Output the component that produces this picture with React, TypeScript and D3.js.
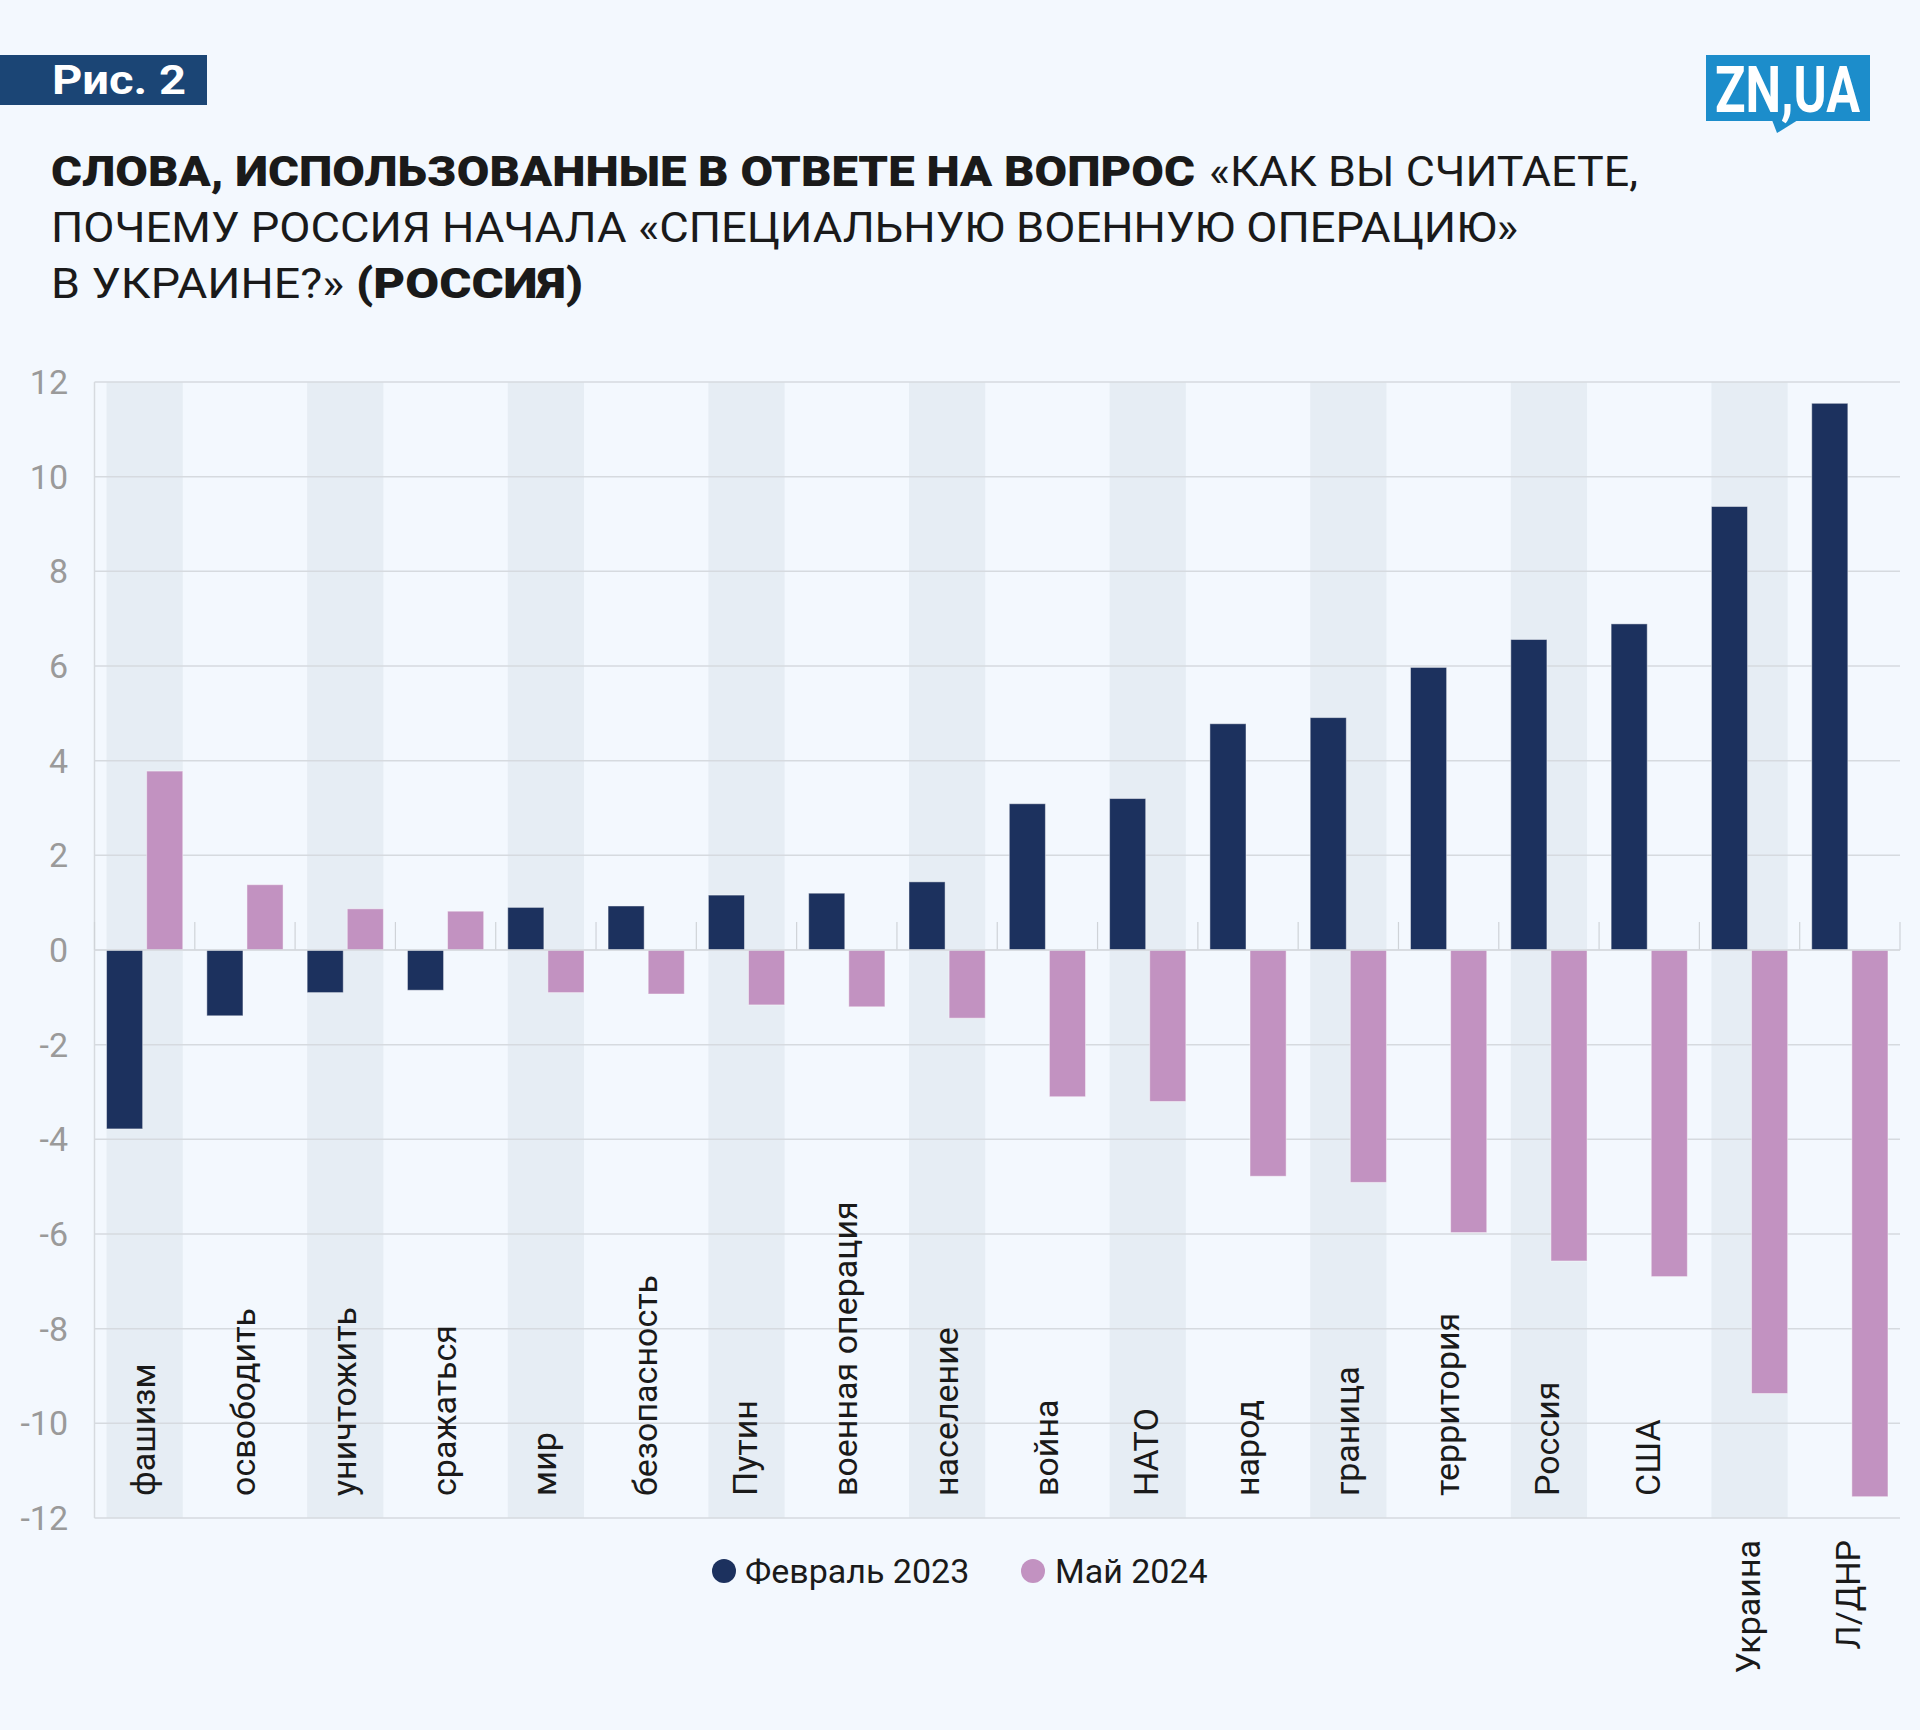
import React from "react";
import * as d3 from "d3";

const categories = [
  "фашизм", "освободить", "уничтожить", "сражаться", "мир", "безопасность",
  "Путин", "военная операция", "население", "война", "НАТО", "народ",
  "граница", "территория", "Россия", "США", "Украина", "Л/ДНР",
];
const feb2023 = [-3.78, -1.39, -0.9, -0.85, 0.9, 0.93, 1.16, 1.2, 1.44, 3.09, 3.2, 4.78, 4.91, 5.97, 6.56, 6.89, 9.37, 11.55];
const may2024 = [3.78, 1.38, 0.87, 0.82, -0.9, -0.93, -1.16, -1.2, -1.44, -3.1, -3.2, -4.78, -4.91, -5.97, -6.57, -6.9, -9.37, -11.55];
const seriesKeys = ["feb", "may"];
const seriesNames = ["Февраль 2023", "Май 2024"];
const yTicks = [12, 10, 8, 6, 4, 2, 0, -2, -4, -6, -8, -10, -12];
const lowLabelCats = ["Украина", "Л/ДНР"];

const W = 1920;
const H = 1730;
const BG = "#f3f8fe";
const BAND = "#e6edf4";
const GRID = "#d6dadf";
const C_FEB = "#1c315e";
const C_MAY = "#c292c1";
const TXT = "#1a1a1a";
const FONT = "Roboto, 'Noto Sans', sans-serif";

export default function App() {
  const plotL = 94.5, plotR = 1900, plotT = 382, plotB = 1518;
  const x0 = d3.scaleBand<string>().domain(categories).range([plotL, plotR]).paddingInner(0).paddingOuter(0);
  const x1 = d3.scaleBand<string>().domain(seriesKeys).range([0, x0.step()]).paddingInner(0.1).paddingOuter(0.3);
  const y = d3.scaleLinear().domain([-12, 12]).range([plotB, plotT]);
  const colors = d3.scaleOrdinal<string, string>().domain(seriesKeys).range([C_FEB, C_MAY]);
  const vals: Record<string, number[]> = { feb: feb2023, may: may2024 };
  const y0 = y(0);

  return (
    <svg width={W} height={H} viewBox={`0 0 ${W} ${H}`} style={{ position: "absolute", left: 0, top: 0, display: "block" }} fontFamily={FONT}>
      <rect x={0} y={0} width={W} height={H} fill={BG} />

      {/* badge */}
      <rect x={0} y={55} width={207} height={50} fill="#1b4575" />
      <text x={52} y={94} fill="#fff" fontSize={40} fontWeight={700} textLength={134} lengthAdjust="spacingAndGlyphs">Рис. 2</text>

      {/* logo */}
      <rect x={1706} y={55} width={164} height={66} fill="#1c8dcb" />
      <path d="M1772,120 L1798,120 L1777,133 Z" fill="#1c8dcb" />
      <text x={1715} y={112} fill="#fff" fontSize={64} fontWeight={700} textLength={145} lengthAdjust="spacingAndGlyphs">ZN,UA</text>

      {/* title */}
      <g fill={TXT} fontSize={43}>
        <text x={51} y={186} fontWeight={900} textLength={1144} lengthAdjust="spacingAndGlyphs">СЛОВА, ИСПОЛЬЗОВАННЫЕ В ОТВЕТЕ НА ВОПРОС</text>
        <text x={1209} y={186} textLength={429} lengthAdjust="spacingAndGlyphs">«КАК ВЫ СЧИТАЕТЕ,</text>
        <text x={51} y={242} textLength={1467} lengthAdjust="spacingAndGlyphs">ПОЧЕМУ РОССИЯ НАЧАЛА «СПЕЦИАЛЬНУЮ ВОЕННУЮ ОПЕРАЦИЮ»</text>
        <text x={51} y={298} textLength={293} lengthAdjust="spacingAndGlyphs">В УКРАИНЕ?»</text>
        <text x={356} y={298} fontWeight={900} textLength={227} lengthAdjust="spacingAndGlyphs">(РОССИЯ)</text>
      </g>

      {/* alternating bands */}
      {categories.map((c, i) =>
        i % 2 === 0 ? (
          <rect key={"band" + c} x={(x0(c) as number) + (x1("feb") as number)} y={plotT}
            width={(x1("may") as number) + x1.bandwidth() - (x1("feb") as number)} height={plotB - plotT} fill={BAND} />
        ) : null
      )}

      {/* grid lines */}
      {yTicks.map((t) => (
        <line key={"g" + t} x1={plotL} x2={plotR} y1={y(t)} y2={y(t)} stroke={GRID} strokeWidth={1.5} />
      ))}
      <line x1={plotL} x2={plotL} y1={plotT} y2={plotB} stroke={GRID} strokeWidth={1.5} />

      {/* y labels */}
      {yTicks.map((t) => (
        <text key={"yl" + t} x={68} y={y(t)} dy="0.35em" textAnchor="end" fontSize={34} fill="#9a9a9a">{t}</text>
      ))}

      {/* category ticks */}
      {categories.map((c) => (
        <line key={"tk" + c} x1={(x0(c) as number)} x2={(x0(c) as number)} y1={y0 - 28} y2={y0} stroke="#cfd3d8" strokeWidth={1.2} />
      ))}
      <line x1={plotR} x2={plotR} y1={y0 - 28} y2={y0} stroke="#cfd3d8" strokeWidth={1.2} />

      {/* bars */}
      {categories.map((c, i) => (
        <g key={"bars" + c} transform={`translate(${x0(c)},0)`}>
          {seriesKeys.map((k) => {
            const v = vals[k][i];
            const top = Math.min(y(v), y0);
            const h = Math.abs(y(v) - y0);
            return (
              <rect key={k} x={x1(k) as number} y={top} width={x1.bandwidth()} height={h}
                fill={colors(k)} stroke="rgba(255,255,255,0.45)" strokeWidth={1} />
            );
          })}
        </g>
      ))}
      <line x1={plotL} x2={plotR} y1={y0} y2={y0} stroke={GRID} strokeWidth={1.5} />

      {/* category labels */}
      {categories.map((c) => {
        const cx = (x0(c) as number) + x0.bandwidth() / 2;
        const low = lowLabelCats.includes(c);
        return (
          <text key={"cl" + c} transform={`translate(${cx + 10.5},${low ? 1540 : 1496}) rotate(-90)`}
            textAnchor={low ? "end" : "start"} fontSize={34} fill={TXT}>{c}</text>
        );
      })}

      {/* legend */}
      <g fontSize={34} fill={TXT}>
        <circle cx={724} cy={1571} r={12} fill={C_FEB} />
        <text x={745} y={1583}>{seriesNames[0]}</text>
        <circle cx={1033} cy={1571} r={12} fill={C_MAY} />
        <text x={1055} y={1583}>{seriesNames[1]}</text>
      </g>
    </svg>
  );
}
